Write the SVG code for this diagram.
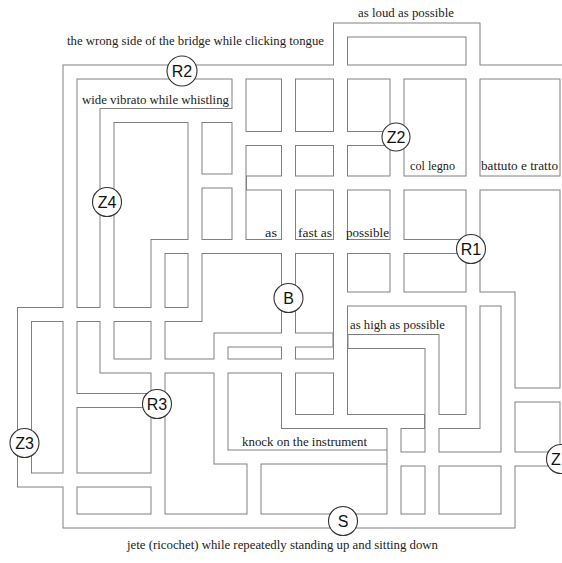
<svg xmlns="http://www.w3.org/2000/svg" width="562" height="563" viewBox="0 0 562 563">
<style>
.w{fill:none;stroke:#808080;stroke-width:15;stroke-linecap:square;stroke-linejoin:miter}
.c{fill:none;stroke:#fff;stroke-width:13;stroke-linecap:square;stroke-linejoin:miter}
.t{font-family:"Liberation Serif","Times New Roman",serif;font-size:12.5px;fill:#222}
.n circle{fill:#fff;stroke:#333;stroke-width:1.1}
.n text{font-family:"Liberation Sans",Arial,sans-serif;font-size:16px;fill:#111;text-anchor:middle}
</style>
<defs>
<path id="maze" d="M575,72 H70 V521 H508
M340.5,421.5 V30 H473 V421.5 H432
M355,341.5 H432 V521
M239,115.5 H107 V366 H340.5
M195,115.5 V314.5
M195,314.5 H24.5 V480 H158
M239,72 V246.5
M471,246.5 H158 V521
M195,181 H239
M239,138.5 H397
M253.5,183 H575
M288.5,72 V421.5 H417.5
M397,72 V299
M340.5,299 H508 V521
M326,340 H221 V457 H380
M254,457 V521
M70,400.5 H158
M394,421.5 V521
M394,459 H575
M508,395 H575
M567,72 V459"/>
</defs>
<rect width="562" height="563" fill="#fff"/>
<g id="connectors">
<use href="#maze" class="w"/>
<use href="#maze" class="c"/>
</g>
<g id="labels">
<text class="t" x="358" y="17" textLength="96" lengthAdjust="spacingAndGlyphs">as loud as possible</text>
<text class="t" x="67" y="45" textLength="257" lengthAdjust="spacingAndGlyphs">the wrong side of the bridge while clicking tongue</text>
<text class="t" x="82" y="104" textLength="147" lengthAdjust="spacingAndGlyphs">wide vibrato while whistling</text>
<text class="t" x="410" y="170" textLength="45" lengthAdjust="spacingAndGlyphs">col legno</text>
<text class="t" x="481" y="170" textLength="77" lengthAdjust="spacingAndGlyphs">battuto e tratto</text>
<text class="t" x="265" y="237" textLength="12" lengthAdjust="spacingAndGlyphs">as</text>
<text class="t" x="298" y="237" textLength="34" lengthAdjust="spacingAndGlyphs">fast as</text>
<text class="t" x="346" y="237" textLength="43" lengthAdjust="spacingAndGlyphs">possible</text>
<text class="t" x="350" y="329" textLength="95" lengthAdjust="spacingAndGlyphs">as high as possible</text>
<text class="t" x="242" y="446" textLength="125" lengthAdjust="spacingAndGlyphs">knock on the instrument</text>
<text class="t" x="127" y="549" textLength="311" lengthAdjust="spacingAndGlyphs">jete (ricochet) while repeatedly standing up and sitting down</text>
</g>
<g id="node-R2" class="n"><circle cx="182" cy="71" r="15"/><text x="182" y="77">R2</text></g>
<g id="node-Z2" class="n"><circle cx="396" cy="137" r="14"/><text x="396" y="143">Z2</text></g>
<g id="node-Z4" class="n"><circle cx="107" cy="202" r="14.5"/><text x="107" y="208">Z4</text></g>
<g id="node-R1" class="n"><circle cx="471" cy="249" r="14.5"/><text x="471" y="255">R1</text></g>
<g id="node-B" class="n"><circle cx="288.5" cy="298" r="14.5"/><text x="288.5" y="304">B</text></g>
<g id="node-R3" class="n"><circle cx="157" cy="404" r="14.5"/><text x="157" y="410">R3</text></g>
<g id="node-Z3" class="n"><circle cx="24.5" cy="443" r="14.5"/><text x="24.5" y="449">Z3</text></g>
<g id="node-S" class="n"><circle cx="343" cy="521" r="14.5"/><text x="343" y="527">S</text></g>
<g id="node-Z" class="n"><circle cx="561" cy="459" r="14.5"/><text x="556" y="465">Z</text></g>
</svg>
